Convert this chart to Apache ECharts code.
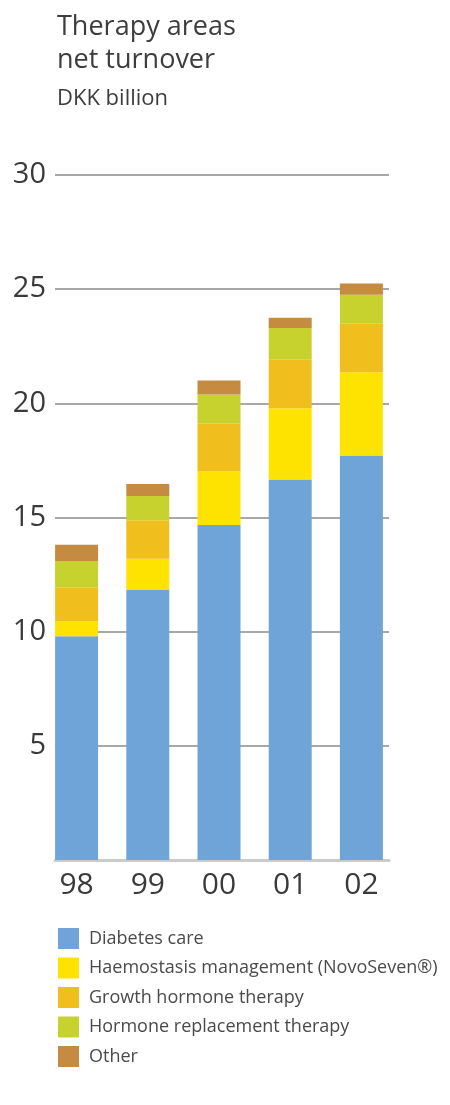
<!DOCTYPE html>
<html>
<head>
	<meta charset="utf-8">
	<title>Therapy areas net turnover</title>
	<style>
		html, body { margin: 0; padding: 0; background: #fff; }
	</style>
</head>
<body>
<script type="text/javascript" src="https://cdn.jsdelivr.net/npm/echarts@6/dist/echarts.min.js"></script>
<div id="container" style="width: 450px;height: 1105px;"></div>
<script type="text/javascript">
	// years on the x axis
	var years = ['98', '99', '00', '01', '02'];
	// DKK billion per therapy area
	var diabetes = [9.8, 11.85, 14.67, 16.66, 17.72];
	var haemostasis = [0.65, 1.34, 2.35, 3.12, 3.64];
	var growth = [1.5, 1.69, 2.09, 2.13, 2.13];
	var hrt = [1.14, 1.06, 1.28, 1.39, 1.27];
	var other = [0.72, 0.53, 0.61, 0.45, 0.49];

	var names = ['Diabetes care', 'Haemostasis management (NovoSeven\u00ae)', 'Growth hormone therapy', 'Hormone replacement therapy', 'Other'];
	var values = [diabetes, haemostasis, growth, hrt, other];
	var colors = ['#6ea4d8', '#ffe300', '#f0bf1e', '#c8d22e', '#c48b41'];

	var font = '"Open Sans", sans-serif';
	var myChart = echarts.init(document.getElementById('container'));

	var series = [];
	for (var i = 0; i < names.length; i++) {
		series.push({
			name: names[i],
			type: 'bar',
			stack: 'total',
			barWidth: 43,
			xAxisIndex: 0,
			yAxisIndex: 0,
			itemStyle: { color: colors[i] },
			data: values[i]
		});
	}

	var option = {
		animation: false,
		title: {
			text: 'Therapy areas\nnet turnover',
			subtext: 'DKK billion',
			left: 52,
			top: 6,
			itemGap: 8,
			textStyle: { fontFamily: font, fontSize: 27, fontWeight: 'normal', color: '#3d3d3d', lineHeight: 33 },
			subtextStyle: { fontFamily: font, fontSize: 22, color: '#3d3d3d', lineHeight: 28 }
		},
		legend: {
			orient: 'vertical',
			left: 53,
			top: 923,
			itemWidth: 21,
			itemHeight: 21,
			itemGap: 8.5,
			icon: 'rect',
			textStyle: { fontFamily: font, fontSize: 18, color: '#4a4a4a', padding: [0, 0, 0, 5] },
			data: names
		},
		grid: [
			// bars
			{ left: 41, right: 53, top: 175, bottom: 245 },
			// gridlines and y labels
			{ left: 55, right: 61, top: 175, bottom: 245 }
		],
		xAxis: [
			{
				type: 'category',
				gridIndex: 0,
				data: years,
				axisLine: { show: false },
				axisTick: { show: false },
				axisLabel: { fontFamily: font, fontSize: 30, color: '#3a3a3a', margin: 10 }
			},
			{
				type: 'value',
				gridIndex: 1,
				min: 0,
				max: 1,
				axisLine: { show: true, lineStyle: { color: '#cbcbcb', width: 3 } },
				axisTick: { show: false },
				axisLabel: { show: false },
				splitLine: { show: false }
			}
		],
		yAxis: [
			{
				type: 'value',
				gridIndex: 0,
				min: 0,
				max: 30,
				interval: 5,
				axisLine: { show: false },
				axisTick: { show: false },
				axisLabel: { show: false },
				splitLine: { show: false }
			},
			{
				type: 'value',
				gridIndex: 1,
				min: 0,
				max: 30,
				interval: 5,
				axisLine: { show: false },
				axisTick: { show: false },
				axisLabel: {
					fontFamily: font, fontSize: 29, color: '#3a3a3a', margin: 9,
					formatter: function (v) { return v === 0 ? '' : v; }
				},
				splitLine: { show: true, lineStyle: { color: '#a8a8a8', width: 2 } }
			}
		],
		series: series
	};
	myChart.setOption(option);

	window.addEventListener('resize', myChart.resize);
</script>
</body>
</html>
